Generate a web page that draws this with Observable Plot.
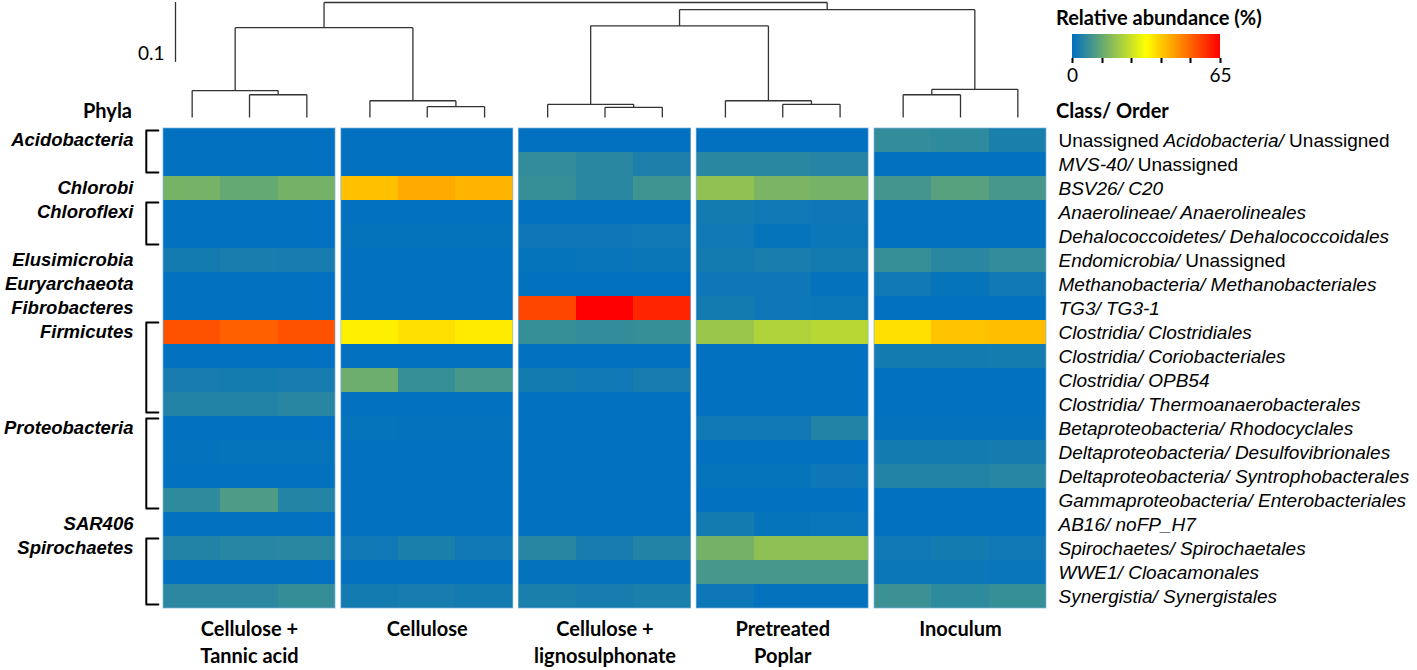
<!DOCTYPE html>
<html><head><meta charset="utf-8">
<script src="https://cdn.jsdelivr.net/npm/d3@7"></script>
<script src="https://cdn.jsdelivr.net/npm/@observablehq/plot@0.6"></script>
<style>
body{margin:0;background:#fff;}
#wrap{position:relative;width:1417px;height:670px;overflow:hidden;background:#fff;}
.ttl{position:absolute;font-family:Lato,sans-serif;font-weight:700;font-size:20px;line-height:24px;white-space:nowrap;color:#000;}
</style></head><body>
<div id="wrap">
  <div class="ttl" style="left:1056px;top:5px">Relative abundance (%)</div>
  <div class="ttl" style="left:83px;top:98px">Phyla</div>
  <div class="ttl" style="left:1056px;top:98px">Class/ Order</div>
  <div id="legend" style="position:absolute;left:1060px;top:34px"></div>
</div>
<script>
// ---------------- data ----------------
const groups = ["Cellulose +\nTannic acid", "Cellulose", "Cellulose +\nlignosulphonate", "Pretreated\nPoplar", "Inoculum"];

const taxa = [
  "Unassigned Acidobacteria/ Unassigned",
  "MVS-40/ Unassigned",
  "BSV26/ C20",
  "Anaerolineae/ Anaerolineales",
  "Dehalococcoidetes/ Dehalococcoidales",
  "Endomicrobia/ Unassigned",
  "Methanobacteria/ Methanobacteriales",
  "TG3/ TG3-1",
  "Clostridia/ Clostridiales",
  "Clostridia/ Coriobacteriales",
  "Clostridia/ OPB54",
  "Clostridia/ Thermoanaerobacterales",
  "Betaproteobacteria/ Rhodocyclales",
  "Deltaproteobacteria/ Desulfovibrionales",
  "Deltaproteobacteria/ Syntrophobacterales",
  "Gammaproteobacteria/ Enterobacteriales",
  "AB16/ noFP_H7",
  "Spirochaetes/ Spirochaetales",
  "WWE1/ Cloacamonales",
  "Synergistia/ Synergistales"
];

const phyla = ["Acidobacteria", "Chlorobi", "Chloroflexi", "Elusimicrobia", "Euryarchaeota",
  "Fibrobacteres", "Firmicutes", "Proteobacteria", "SAR406", "Spirochaetes"];
const phylumStart = [0, 2, 3, 5, 6, 7, 8, 12, 16, 17];
const phylumSize  = [2, 1, 2, 1, 1, 1, 4, 4, 1, 3];

// relative abundance (%) per taxon (rows) x replicate (3)
const tannic = [
  [0.2,0.2,0.2],[0.2,0.2,0.2],[15.2,12.8,14.9],[0.2,0.2,0.2],[0.2,0.2,0.2],
  [2.5,3.2,3],[0.2,0.2,0.2],[0.2,0.2,0.2],[54.6,52.8,54.6],[0.2,0.2,0.2],
  [3,2.7,3],[4.3,4.3,5.1],[0.2,0.2,0.2],[0.5,0.8,0.8],[0.2,0.3,0.3],
  [5.9,9.9,4.5],[0.2,0.2,0.2],[4.3,4.9,5.3],[0.2,0.2,0.2],[5.5,5.5,6.7]
];
const cellulose = [
  [0.2,0.2,0.2],[0.2,0.2,0.2],[40.5,43.3,42],[0.4,0.4,0.4],[0.6,0.6,0.6],
  [0.4,0.4,0.4],[0.4,0.4,0.4],[0.2,0.2,0.2],[34.4,36.4,35],[0.2,0.2,0.2],
  [13.9,6.9,9],[0.2,0.2,0.2],[0.8,0.5,0.5],[0.3,0.3,0.3],[0.3,0.3,0.3],
  [0.2,0.2,0.2],[0.2,0.2,0.2],[1.9,3.4,1.9],[0.2,0.2,0.2],[2.5,3,2.5]
];
const ligno = [
  [0.2,0.2,0.2],[6.4,5.3,3.7],[6.9,5.3,8],[0.2,0.2,0.2],[1.6,1.6,2.1],
  [0.8,1,1.3],[0.3,0.3,0.3],[56.1,65,60.3],[6.9,6.4,6.9],[0.2,0.2,0.2],
  [2.5,1.9,3],[0.2,0.2,0.2],[0.2,0.2,0.2],[0.2,0.2,0.2],[0.2,0.2,0.2],
  [0.2,0.2,0.2],[0.2,0.2,0.2],[5.1,3,4.3],[0.5,0.5,0.5],[3.4,3,3.4]
];
const poplar = [
  [0.2,0.2,0.2],[5.3,5.3,4.8],[18.5,15.5,15.2],[2.5,1.9,1.6],[1.9,0.8,1.4],
  [2.5,3.2,2.5],[1.6,1.6,0.5],[2.5,1.6,1.4],[19.6,22.4,23.5],[0.2,0.2,0.2],
  [0.2,0.2,0.2],[0.2,0.2,0.2],[2.1,2.1,4.3],[0.2,0.2,0.2],[0.8,0.8,1.6],
  [0.2,0.2,0.2],[2.5,0.8,1.1],[14.9,18.1,18.1],[9,9,9],[1.6,0.5,0.5]
];
const inoculum = [
  [6.4,5.9,3.4],[0.2,0.2,0.2],[8.5,11.2,9],[0.2,0.2,0.2],[0.2,0.2,0.2],
  [6.9,5.3,6.4],[2.1,0.8,2.1],[0.2,0.2,0.2],[36.4,40.1,40.8],[2.5,2.5,2.7],
  [0.2,0.2,0.2],[0.2,0.2,0.2],[0.5,0.5,0.5],[2.5,2.5,2.8],[4.3,4.3,4.9],
  [0.2,0.2,0.2],[0.2,0.2,0.2],[1.9,2.5,1.9],[1.4,1.4,1.1],[7.5,5.9,6.9]
];
const groupValues = [tannic, cellulose, ligno, poplar, inoculum];

// dendrogram merges: [childA, childB, height]; leaves 0..14 (group*3+replicate), internal nodes 15..
const merges = [
  [1, 2, 0.038], [0, 15, 0.045],
  [4, 5, 0.018], [3, 17, 0.028],
  [16, 18, 0.150],
  [7, 8, 0.017], [6, 20, 0.022],
  [10, 11, 0.022], [9, 22, 0.028],
  [21, 23, 0.153],
  [12, 13, 0.038], [25, 14, 0.047],
  [24, 26, 0.180],
  [19, 27, 0.192]
];
const scaleBar = 0.1;
const colorStops = [0, 32.5, 65];
const colorTicks = [0, 13, 26, 39, 52, 65];

// ---------------- layout ----------------
const W = 1417, H = 670;
const ML = 163, MR = 371;
const GAP = 0.1;
const nRep = 3;
const xMax = groups.length * nRep + (groups.length - 1) * GAP;
const colStart = (g, r) => g * (nRep + GAP) + r;
const BR_X = -0.30, BR_TICK = -0.09;
const sans = "'Liberation Sans', Arial, sans-serif";
const cal = "Lato, sans-serif";

const colorOpts = {type: "linear", domain: colorStops, range: ["#0070C0", "#FFFF00", "#FF0000"], interpolate: "rgb"};

const cells = [];
groupValues.forEach((vals, g) => vals.forEach((row, i) => row.forEach((v, r) => cells.push({g, r, i, v}))));

const brackets = [];
phyla.forEach((p, k) => {
  if (phylumSize[k] > 1) {
    const t = phylumStart[k] + 0.08, b = phylumStart[k] + phylumSize[k] - 0.17;
    brackets.push({k, x: BR_TICK, y: t}, {k, x: BR_X, y: t}, {k, x: BR_X, y: b}, {k, x: BR_TICK, y: b});
  }
});

const heat = Plot.plot({
  width: W, height: H,
  marginLeft: ML, marginRight: MR, marginTop: 128, marginBottom: 62,
  x: {domain: [0, xMax], axis: null},
  y: {domain: [0, taxa.length], reverse: true, axis: null},
  color: colorOpts,
  style: {position: "absolute", left: "0px", top: "0px", background: "transparent", overflow: "visible", fontFamily: sans},
  marks: [
    Plot.rect(cells, {
      x1: d => colStart(d.g, d.r), x2: d => colStart(d.g, d.r) + 1,
      y1: d => d.i, y2: d => d.i + 1, fill: d => d.v, shapeRendering: "crispEdges"
    }),
    Plot.rect(groups, {
      x1: (d, g) => colStart(g, 0), x2: (d, g) => colStart(g, nRep),
      y1: () => 0, y2: () => taxa.length, fill: "none", stroke: "#7fb3e0", strokeOpacity: 0.7, strokeWidth: 1
    }),
    Plot.line(brackets, {x: "x", y: "y", z: "k", stroke: "#000", strokeWidth: 2, strokeLinejoin: "round"}),
    Plot.text(phyla, {
      x: () => 0, y: (d, i) => phylumStart[i] + 0.5, text: d => d, dx: -30, textAnchor: "end",
      fontWeight: "bold", fontStyle: "italic", fontSize: 18.5, fontFamily: sans, fill: "#000"
    }),
    Plot.text(taxa, {
      x: () => xMax, y: (d, i) => i + 0.5, text: d => d, dx: 12, textAnchor: "start",
      fontStyle: "italic", fontSize: 19, fontFamily: sans, fill: "#000", ariaLabel: "class-order"
    }),
    Plot.text(groups, {
      x: (d, g) => colStart(g, 0) + nRep / 2, y: () => taxa.length, text: d => d, dy: 8,
      lineAnchor: "top", lineHeight: 1.35, textAnchor: "middle",
      fontWeight: "bold", fontSize: 20, fontFamily: cal, fill: "#000"
    })
  ]
});

// mixed styles: "Unassigned" is set upright
heat.querySelectorAll("text").forEach(t => {
  const s = t.textContent;
  if (taxa.includes(s) && s.includes("Unassigned")) {
    t.textContent = "";
    t.setAttribute("style", "white-space:pre");
    s.split(/(Unassigned)/).filter(p => p.length).forEach(p => {
      const ts = document.createElementNS("http://www.w3.org/2000/svg", "tspan");
      ts.textContent = p;
      if (p === "Unassigned") ts.setAttribute("font-style", "normal");
      t.appendChild(ts);
    });
  }
});

// dendrogram
const nodes = [];
for (let i = 0; i < groups.length * nRep; i++) nodes.push({x: colStart(Math.floor(i / nRep), i % nRep) + 0.5, h: 0});
merges.forEach(([a, b, h]) => nodes.push({x: (nodes[a].x + nodes[b].x) / 2, h}));
const segs = [];
merges.forEach(([a, b, h]) => {
  segs.push({x1: nodes[a].x, y1: nodes[a].h, x2: nodes[a].x, y2: h});
  segs.push({x1: nodes[b].x, y1: nodes[b].h, x2: nodes[b].x, y2: h});
  segs.push({x1: nodes[a].x, y1: h, x2: nodes[b].x, y2: h});
});
const rootH = d3.max(merges, d => d[2]);

const dendro = Plot.plot({
  width: W, height: H,
  marginLeft: ML, marginRight: MR, marginTop: 2, marginBottom: H - 117,
  x: {domain: [0, xMax], axis: null},
  y: {domain: [0, rootH], axis: null},
  style: {position: "absolute", left: "0px", top: "0px", background: "transparent", overflow: "visible"},
  marks: [
    Plot.link(segs, {x1: "x1", y1: "y1", x2: "x2", y2: "y2", stroke: "#333", strokeWidth: 1.3}),
    Plot.ruleX([scaleBar], {x: () => 0, y1: () => rootH, y2: d => rootH - d, dx: 12, stroke: "#333", strokeWidth: 1.3}),
    Plot.text([scaleBar], {x: () => 0, y: d => rootH - d, text: d => String(d), dx: 1, dy: -8,
      textAnchor: "end", fontSize: 19, fontFamily: cal, fill: "#000"})
  ]
});

const wrap = document.getElementById("wrap");
wrap.appendChild(heat);
wrap.appendChild(dendro);

// colour legend
const leg = Plot.legend({
  color: colorOpts, legend: "ramp",
  width: 172, height: 60, marginLeft: 12, marginRight: 12, marginTop: 0, marginBottom: 36,
  tickSize: 4, ticks: colorTicks,
  tickFormat: d => (d === colorStops[0] || d === colorStops[colorStops.length - 1]) ? String(d) : "",
  label: null,
  style: {fontFamily: cal, fontSize: "19px", background: "transparent", overflow: "visible", color: "#000"}
});
// ticks only below the bar, as in the reference
leg.querySelectorAll(".tick line").forEach(l => {
  l.setAttribute("y1", "0"); l.setAttribute("y2", "5");
  l.setAttribute("stroke-width", "2"); l.setAttribute("stroke", "#000");
});
leg.querySelectorAll(".tick text").forEach(t => t.setAttribute("y", "11"));
document.getElementById("legend").appendChild(leg);
</script>
</body></html>
